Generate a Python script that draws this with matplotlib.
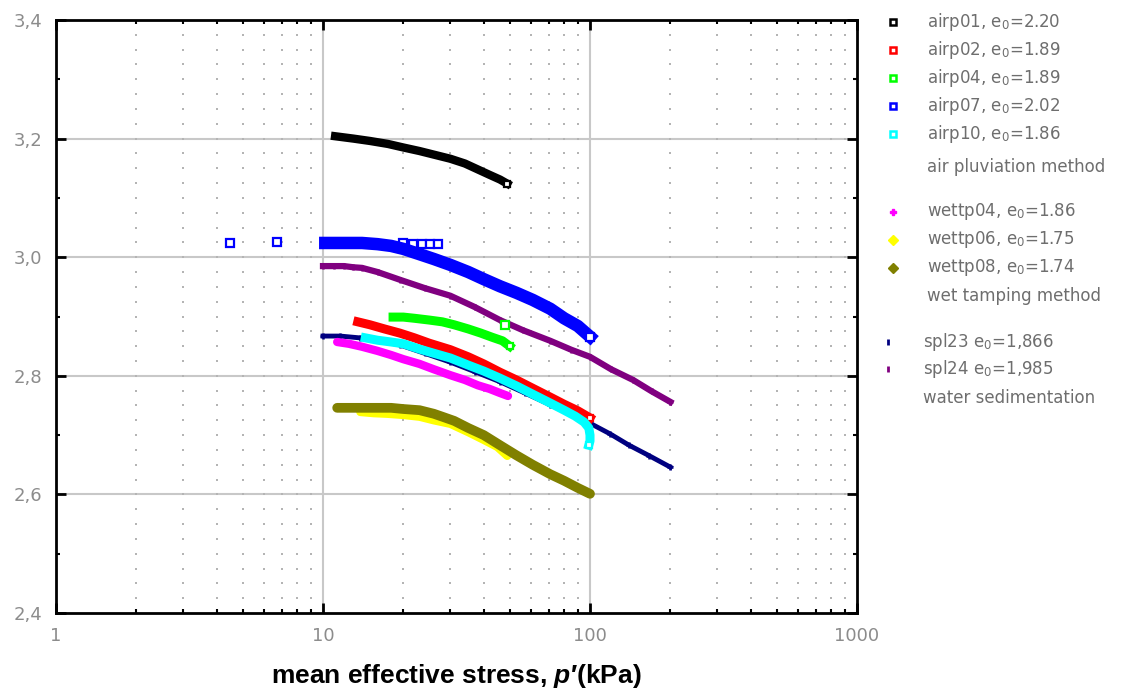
import numpy as np
import matplotlib
matplotlib.use("Agg")
import matplotlib.pyplot as plt
from matplotlib.ticker import FixedLocator, NullFormatter

# ---------------- data ----------------
airp01_p = [11.1, 13, 15, 17.5, 20, 23, 26, 30, 34, 38, 42, 46, 49]
airp01_e = [3.204, 3.200, 3.196, 3.191, 3.185, 3.179, 3.173, 3.166, 3.158, 3.148, 3.139, 3.131, 3.124]

airp02_p = [13.5, 15, 17, 19.4, 22, 25, 30, 35, 40, 46, 53, 61, 71, 80, 90, 100]
airp02_e = [2.891, 2.886, 2.879, 2.872, 2.864, 2.855, 2.844, 2.832, 2.820, 2.806, 2.793, 2.779, 2.764, 2.752, 2.741, 2.729]

airp04_p = [18.3, 20, 22, 25, 28, 31, 35, 39, 43, 47, 50]
airp04_e = [2.899, 2.899, 2.897, 2.894, 2.891, 2.886, 2.879, 2.872, 2.865, 2.859, 2.850]
airp04_extra_p = [48]
airp04_extra_e = [2.886]

airp07_p = [10.2, 11.5, 12.5, 14, 16, 18, 20, 23, 26, 30, 35, 40, 46, 53, 61, 71, 80, 90, 100]
airp07_e = [3.024, 3.024, 3.024, 3.024, 3.022, 3.019, 3.014, 3.005, 2.997, 2.987, 2.975, 2.963,
            2.951, 2.940, 2.928, 2.913, 2.897, 2.884, 2.866]
airp07_extra_p = [4.5, 6.7, 19.9, 21.7, 23.5, 25.2, 27.0]
airp07_extra_e = [3.024, 3.025, 3.024, 3.023, 3.023, 3.023, 3.023]

airp10_p = [14.4, 16, 18, 20, 23, 26, 30, 35, 40, 46, 53, 61, 71, 80, 88, 95, 99, 100, 100, 99]
airp10_e = [2.864, 2.860, 2.857, 2.854, 2.845, 2.838, 2.830, 2.818, 2.808, 2.796, 2.783, 2.769,
            2.754, 2.742, 2.732, 2.722, 2.712, 2.700, 2.690, 2.683]

wettp04_p = [11.3, 12.5, 14, 16, 18, 20, 23, 26, 30, 34, 38, 42, 46, 49.3]
wettp04_e = [2.857, 2.854, 2.849, 2.842, 2.835, 2.828, 2.820, 2.811, 2.801, 2.793, 2.784, 2.778, 2.771, 2.766]

wettp06_p = [13.8, 15.5, 17.4, 20, 23, 26, 30, 35, 40, 45, 49]
wettp06_e = [2.739, 2.737, 2.736, 2.734, 2.731, 2.725, 2.719, 2.705, 2.692, 2.680, 2.665]

wettp08_p = [11.3, 12.5, 14, 16, 18, 20, 23, 26, 28, 31, 35, 40, 46, 53, 61, 71, 80, 90, 100]
wettp08_e = [2.746, 2.746, 2.746, 2.746, 2.746, 2.744, 2.742, 2.736, 2.731, 2.724, 2.712, 2.700,
             2.683, 2.666, 2.650, 2.634, 2.623, 2.611, 2.601]

spl23_p = [10, 11.6, 13.7, 16.3, 19.4, 24, 30, 37, 46, 57, 71, 84, 100, 119, 140, 167, 200]
spl23_e = [2.867, 2.867, 2.864, 2.859, 2.852, 2.838, 2.823, 2.807, 2.790, 2.771, 2.751, 2.736,
           2.720, 2.702, 2.683, 2.665, 2.646]

spl24_p = [10, 11, 12, 13, 14, 16, 19.4, 24, 30, 37, 46, 56, 71, 85, 100, 120, 145, 170, 200]
spl24_e = [2.985, 2.985, 2.985, 2.983, 2.982, 2.975, 2.962, 2.948, 2.935, 2.916, 2.894, 2.877,
           2.859, 2.844, 2.832, 2.811, 2.793, 2.774, 2.756]

x_ticks = [1, 10, 100, 1000]
x_ticklabels = ["1", "10", "100", "1000"]
y_ticks = [2.4, 2.6, 2.8, 3.0, 3.2, 3.4]
y_ticklabels = ["2,4", "2,6", "2,8", "3,0", "3,2", "3,4"]

legend_labels = [
    ("airp01, e$_0$=2.20", "black", "s"),
    ("airp02, e$_0$=1.89", "#ff0000", "s"),
    ("airp04, e$_0$=1.89", "#00ff00", "s"),
    ("airp07, e$_0$=2.02", "#0000ff", "s"),
    ("airp10, e$_0$=1.86", "#00ffff", "s"),
    ("air pluviation method", None, None),
    ("wettp04, e$_0$=1.86", "#ff00ff", "P"),
    ("wettp06, e$_0$=1.75", "#ffff00", "D"),
    ("wettp08, e$_0$=1.74", "#808000", "D"),
    ("wet tamping method", None, None),
    ("spl23 e$_0$=1,866", "#000080", "|"),
    ("spl24 e$_0$=1,985", "#800080", "|"),
    ("water sedimentation", None, None),
]

plt.rcParams["mathtext.fontset"] = "custom"
plt.rcParams["mathtext.it"] = "Liberation Sans:italic:bold"
plt.rcParams["mathtext.bf"] = "Liberation Sans:bold"

# ---------------- figure ----------------
fig = plt.figure(figsize=(11.32, 6.90), dpi=100)
ax = fig.add_axes([56 / 1132, 1 - 613 / 690, (857 - 56) / 1132, (613 - 20) / 690])
ax.set_xscale("log")
ax.set_xlim(1, 1000)
ax.set_ylim(2.4, 3.4)

# grid: solid major lines, dotted minor intersections
for xv in x_ticks[1:-1]:
    ax.axvline(xv, color="#c8c8c8", lw=1.5, zorder=0)
for yv in y_ticks[1:-1]:
    ax.axhline(yv, color="#c8c8c8", lw=1.5, zorder=0)
minor_x = [m * 10 ** d for d in range(3) for m in range(2, 10)]
minor_y = np.arange(2.425, 3.4, 0.025)
gx, gy = np.meshgrid(minor_x, minor_y)
ax.scatter(gx.ravel(), gy.ravel(), s=2.2, color="#b4b4b4", marker="s", lw=0, zorder=0)

def series(p, e, color, lw, z, ms=5):
    ax.plot(p, e, color=color, lw=lw, solid_capstyle="projecting", solid_joinstyle="round", zorder=z)
    ax.plot([p[-1]], [e[-1]], ls="none", marker="s", ms=ms, mfc="white", mec=color, mew=1.6, zorder=z + 0.1)

ax.plot(spl24_p, spl24_e, color="#800080", lw=4.5, marker="+", ms=4.5, mew=1.8, zorder=2)
ax.plot(spl23_p, spl23_e, color="#000080", lw=3.5, marker="+", ms=4.5, mew=1.8, zorder=2.1)
series(airp01_p, airp01_e, "black", 6, 3)
ax.plot(airp07_extra_p, airp07_extra_e, ls="none", marker="s", ms=6, mfc="white", mec="#0000ff", mew=1.6, zorder=3)
series(airp07_p, airp07_e, "#0000ff", 9, 3.2, ms=6)
series(airp02_p, airp02_e, "#ff0000", 6.5, 3.4)
series(airp04_p, airp04_e, "#00ff00", 6.5, 3.5)
ax.plot(airp04_extra_p, airp04_extra_e, ls="none", marker="s", ms=6, mfc="white", mec="#00ff00", mew=1.6, zorder=3.5)
series(airp10_p, airp10_e, "#00ffff", 6.5, 3.6)
ax.plot(wettp04_p, wettp04_e, color="#ff00ff", lw=6, solid_capstyle="round", zorder=3.7)
ax.plot(wettp06_p, wettp06_e, color="#ffff00", lw=6, solid_capstyle="round", zorder=3.8)
ax.plot(wettp08_p, wettp08_e, color="#808000", lw=7, solid_capstyle="round", zorder=3.9)

# ticks
ax.xaxis.set_major_locator(FixedLocator(x_ticks))
ax.xaxis.set_minor_locator(FixedLocator(minor_x))
ax.xaxis.set_minor_formatter(NullFormatter())
ax.set_xticklabels(x_ticklabels)
ax.yaxis.set_major_locator(FixedLocator(y_ticks))
ax.yaxis.set_minor_locator(FixedLocator([2.5, 2.7, 2.9, 3.1, 3.3]))
ax.set_yticklabels(y_ticklabels)
ax.tick_params(which="major", direction="in", length=7, width=2, top=True, right=True,
               labelsize=13, labelcolor="#8c8c8c", pad=10)
ax.tick_params(which="minor", direction="in", length=3, width=1.5, top=True, right=True)
for sp in ax.spines.values():
    sp.set_linewidth(2)
    sp.set_color("black")

ax.set_xlabel("mean effective stress, $p$\u2032(kPa)", fontsize=19, fontweight="bold",
              family=["Liberation Sans Narrow", "Liberation Sans", "DejaVu Sans"], labelpad=12, color="black")

# legend (manual, pixel coordinates)
lax = fig.add_axes([0, 0, 1, 1])
lax.set_xlim(0, 1132)
lax.set_ylim(690, 0)
lax.axis("off")
rows_y = [22, 50, 78, 106, 134, 167, 212, 240, 268, 296, 342, 369, 398]
for (label, color, marker), yy in zip(legend_labels, rows_y):
    if marker is None:
        tx = 923 if "water" in label else 927
        lax.text(tx, yy, label, fontsize=12, color="#6e6e6e", va="center", ha="left")
        continue
    spl = marker == "|"
    mx = 888 if spl else 893
    tx = 923 if spl else 927
    if marker == "s":
        lax.plot([mx], [yy], ls="none", marker="s", ms=5, mfc="white", mec=color, mew=1.8)
    elif marker == "|":
        lax.plot([mx], [yy], ls="none", marker="|", ms=5, mec=color, mew=2)
    else:
        lax.plot([mx], [yy], ls="none", marker=marker, ms=5, mfc=color, mec=color)
    lax.text(tx, yy, label, fontsize=12, color="#6e6e6e", va="center", ha="left")

fig.savefig("out.png", dpi=100)
